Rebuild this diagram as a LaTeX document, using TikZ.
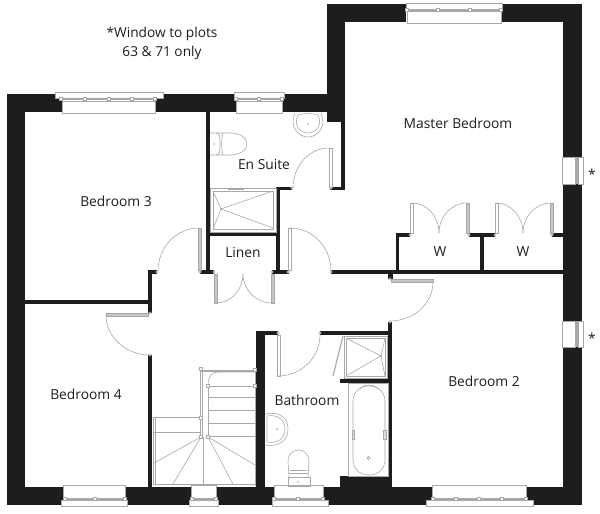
\documentclass[tikz,border=0pt]{standalone}
\usepackage{fontspec}
\setmainfont{Open Sans}
\usetikzlibrary{calc}
\definecolor{wallc}{HTML}{1D1D1B}
\definecolor{linec}{HTML}{A8A8A7}
\definecolor{leafc}{HTML}{C6C6C6}
\tikzset{
  wall/.style={fill=wallc,draw=none},
  fine/.style={draw=linec,line width=0.6pt},
  fixture/.style={draw=linec,line width=0.6pt,fill=white},
  swingline/.style={draw=linec,line width=0.6pt},
  leaf/.style={draw=linec,line width=0.5pt,fill=white},
  greyleaf/.style={draw=linec,line width=0.5pt,fill=leafc},
  band/.style={fill=linec,draw=none},
  post/.style={draw=linec,fill=white,line width=0.5pt},
  label/.style={text=wallc,font=\fontsize{13.8}{16}\selectfont,inner sep=0pt},
  note/.style={text=wallc,font=\fontsize{13.7}{19}\selectfont,inner sep=0pt,align=center}
}
\newcommand\wl[4]{\fill[wall] (#1,#2) rectangle (#3,#4);}
\newcommand\swing[3]{\draw[swingline] (#1) .. controls ($(#1)!0.552!(#2)$) and ($(#3)!0.552!(#2)$) .. (#3);}
\newcommand\hinge[2]{\draw[post] (#1,#2) circle (1.2);}
\newcommand\pst[2]{\draw[post] (#1-1.3,#2-1.3) rectangle (#1+1.3,#2+1.3);}
\begin{document}
\begin{tikzpicture}[x=1pt,y=-1pt]
\useasboundingbox (0,0) rectangle (600,514);
% ---- outer walls
\wl{7}{94}{25}{505}
\wl{7}{94}{62}{112}
\wl{155}{94}{236}{112}
\wl{283}{94}{345}{112}
\wl{327}{4}{345}{122}
\wl{327}{4}{406}{22}
\wl{502}{4}{582}{22}
\wl{563}{4}{582}{157}
\wl{563}{184}{582}{321}
\wl{563}{347}{582}{505}
\wl{7}{487}{63}{505}
\wl{125}{487}{191}{505}
\wl{216}{487}{274}{505}
\wl{323}{487}{432}{505}
\wl{526}{487}{582}{505}
\wl{340}{476}{392}{487}
% ---- inner walls
\wl{341}{112}{345}{190}
\wl{330}{187}{345}{190}
\wl{206}{112}{210}{274}
\wl{200}{270}{214}{274}
\wl{276}{187}{280}{274}
\wl{276}{187}{292}{190}
\wl{206}{232}{280}{236}
\wl{272}{270}{289}{274}
\wl{331}{270}{563}{274}
\wl{388}{270}{393}{279}
\wl{396}{233}{399}{270}
\wl{396}{233}{410}{237}
\wl{469}{233}{495}{237}
\wl{480}{233}{484}{270}
\wl{552}{233}{563}{237}
\wl{25}{300}{152}{304}
\wl{148}{271}{152}{313}
\wl{148}{270}{157}{274}
\wl{148}{355}{152}{487}
\wl{256}{331}{265}{487}
\wl{256}{331}{278}{335}
\wl{320}{331}{392}{335}
\wl{388}{322}{392}{476}
\wl{340}{379}{388}{383}
% ---- door leaves
\draw[leaf] (329,148) rectangle (332,187);
\draw[leaf] (288,228) rectangle (291,270);
\draw[greyleaf] (198,228) rectangle (201,270);
\draw[greyleaf] (106,313) rectangle (148,316);
\draw[greyleaf] (214,274) rectangle (217,303);
\draw[greyleaf] (271,274) rectangle (274,303);
\draw[leaf] (410,203) rectangle (413,233);
\draw[greyleaf] (466,203) rectangle (469,233);
\draw[leaf] (495,203) rectangle (498,233);
\draw[greyleaf] (550,203) rectangle (553,233);
\draw[greyleaf] (391,279) rectangle (433,282);
\draw[leaf] (277,335) rectangle (280,376);
% ---- door swings
\swing{329,148}{293,148}{293,188}
\swing{290,228}{331,228}{331,271}
\swing{199,228}{158,228}{158,271}
\swing{106,315}{106,355}{150,355}
\swing{216,303}{243,303}{243,274}
\swing{272,303}{243,303}{243,274}
\swing{412,203}{439,203}{439,233}
\swing{467,203}{439,203}{439,233}
\swing{496,203}{523,203}{523,233}
\swing{551,203}{523,203}{523,233}
\swing{433,282}{433,321}{390,321}
\swing{278,376}{320,376}{320,335}
% ---- hinges
\hinge{292}{188}\hinge{331}{188}\hinge{288}{272}\hinge{331}{272}
\hinge{157}{272}\hinge{200}{272}\hinge{150}{313}\hinge{150}{355}
\hinge{214}{272}\hinge{272}{272}
\hinge{410}{235}\hinge{469}{235}\hinge{495}{235}\hinge{552}{235}
\hinge{390}{279}\hinge{390}{322}\hinge{278}{333}\hinge{320}{333}
% ---- top windows
\draw[fixture] (62,101) rectangle (155,113);
\draw[fixture] (55,92) rectangle (163,98);
\fill[band] (61,98.3) rectangle (155,100.3);
\foreach \px in {61,85,109,132,155}{\pst{\px}{99}}
\draw[fixture] (236,101) rectangle (282,113);
\draw[fixture] (234,92) rectangle (284,98);
\fill[band] (236,98.3) rectangle (282,100.3);
\foreach \px in {236,259,282}{\pst{\px}{99}}
\draw[fixture] (407,11) rectangle (501,23);
\draw[fixture] (406,3) rectangle (502,9);
\fill[band] (407,9) rectangle (501,11);
\foreach \px in {407,438,470,501}{\pst{\px}{10}}
% ---- bottom windows
\draw[fixture] (63,485) rectangle (125,498);
\draw[fixture] (61,500) rectangle (127,506);
\fill[band] (64,498) rectangle (125,500);
\foreach \px in {65,95,125}{\pst{\px}{499}}
\draw[fixture] (191,485) rectangle (216,498);
\draw[fixture] (189,500) rectangle (218,506);
\fill[band] (192,498) rectangle (216,500);
\foreach \px in {192,216}{\pst{\px}{499}}
\draw[fixture] (274,485) rectangle (323,498);
\draw[fixture] (272,500) rectangle (328,506);
\fill[band] (274,498) rectangle (323,500);
\foreach \px in {274,298,323}{\pst{\px}{499}}
\draw[fixture] (432,485) rectangle (526,498);
\draw[fixture] (426,500) rectangle (533,506);
\fill[band] (432,498) rectangle (526,500);
\foreach \px in {433,456,479,502,526}{\pst{\px}{499}}
% ---- side windows
\foreach \ya/\yb in {157/184,321/347}{
  \draw[fixture] (562,\ya) rectangle (575,\yb);
  \draw[fixture] (578,\ya) rectangle (583,\yb);
  \fill[band] (575,\ya) rectangle (578,\yb);
}
% ---- en suite fixtures
\draw[fine] (295,113) .. controls (289,126) and (298,137) .. (308,137) .. controls (318,137) and (327,126) .. (321,113);
\draw[fine] (298,115) .. controls (293,125) and (300,133) .. (308,133) .. controls (316,133) and (323,125) .. (318,115) .. controls (312,113) and (304,113) .. (298,115);
\fill[linec] (308,124) circle (0.9);
\draw[fine] (210,133) -- (216,133) .. controls (219,133) and (220,136) .. (220,144) .. controls (220,152) and (219,155) .. (216,155) -- (210,155);
\draw[fine] (216,133) -- (226,133) .. controls (240,132) and (247,138) .. (247,144) .. controls (247,150) and (240,156) .. (226,155) -- (216,155);
\draw[fine] (223,133) .. controls (221,140) and (221,148) .. (223,155);
\fill[linec] (214,144) circle (0.9);
\draw[fine] (210,188) rectangle (276,232);
\draw[fine] (213,191) rectangle (273,229);
\draw[line width=1.2pt,draw=linec] (228,189) -- (244,189);
\draw[fine] (221,209) -- (273,191) (221,209) -- (273,228) (221,209) -- (213,191) (221,209) -- (213,229);
\fill[linec] (221,209) circle (1);
% ---- bathroom shower
\draw[fine] (344,336) rectangle (387,378);
\draw[fine] (346,338) rectangle (385,376);
\draw[fine] (381,356) -- (346,338) (381,356) -- (346,376) (381,356) -- (385,338) (381,356) -- (385,376);
\fill[linec] (381,356) circle (1);
\draw[line width=1.1pt,draw=linec] (343,336) -- (333,376);
% ---- bath
\draw[fine] (348,383) rectangle (388,476);
\draw[fine,rounded corners=15pt] (353,386) rectangle (385,475);
\draw[fine] (360,389) .. controls (362,384) and (376,384) .. (378,389);
\draw[fine] (352,430) rectangle (354.5,439);
\draw[fine] (383.5,430) rectangle (386,439);
\draw[fine] (368.5,458) circle (1.6);
% ---- bathroom basin and wc
\draw[fine] (265,414) .. controls (280,411) and (288,418) .. (288,429) .. controls (288,440) and (280,447) .. (265,445);
\draw[fine] (267,416) .. controls (278,414) and (285,420) .. (285,429) .. controls (285,438) and (278,444) .. (267,442) -- cycle;
\fill[linec] (277,429) circle (1);
\draw[fine] (289,477) -- (288,462) .. controls (288,454) and (293,450) .. (298.5,450) .. controls (304,450) and (309,454) .. (309,462) -- (308,477);
\draw[fine] (288,477) rectangle (310,486);
\draw[fine] (289,473) -- (308,473) (290,470)--(307,470);
\fill[linec] (298,482) circle (0.9);
% ---- stairs
\draw[fine] (201,370) -- (255,370) (201,371.5) -- (255,371.5);
\draw[fine] (200.5,369) -- (200.5,437) (202,369) -- (202,437);
\draw[fine] (208,386) .. controls (208,376) and (212,372) .. (218,372) -- (255,372);
\draw[fine] (208,386) -- (208,437);
\draw[fine] (255.5,370) -- (255.5,486);
\foreach \yy in {386,397,410,423,436}{\draw[fine] (208,\yy) -- (255,\yy);}
\foreach \yy in {417,432}{\draw[fine] (153,\yy) -- (201,\yy);}
\draw[fine] (153,417) -- (153,485) (155,417) -- (155,484);
\draw[fine] (153,484.5) -- (255,484.5);
\draw[fine] (201,437) -- (154,463);
\draw[fine] (201,437) -- (173,484);
\draw[fine] (203,437) -- (203,484);
\draw[fine] (208,437) -- (233,484);
\draw[fine] (208,437) -- (255,465);
\foreach \pa/\pb in {201/369,255/370,208/386,255/386,201/418,201/437,208/437}{\pst{\pa}{\pb}}
% ---- labels
\node[note] (plots) at (162,43.5) {*Window to plots\\63 \& 71 only};
\node[label] (lms) at (458,123) {Master Bedroom};
\node[label] (les) at (264,165) {En Suite};
\node[label] (lb3) at (116,201) {Bedroom 3};
\node[label] (lli) at (243,253) {Linen};
\node[label] (lw1) at (440,252) {W};
\node[label] (lw2) at (523,252) {W};
\node[label] (lb4) at (86,394) {Bedroom 4};
\node[label] (lba) at (307,400) {Bathroom};
\node[label] (lb2) at (484,381) {Bedroom 2};
\node[label] (st1) at (592,174) {*};
\node[label] (st2) at (592,338) {*};
\end{tikzpicture}
\end{document}
